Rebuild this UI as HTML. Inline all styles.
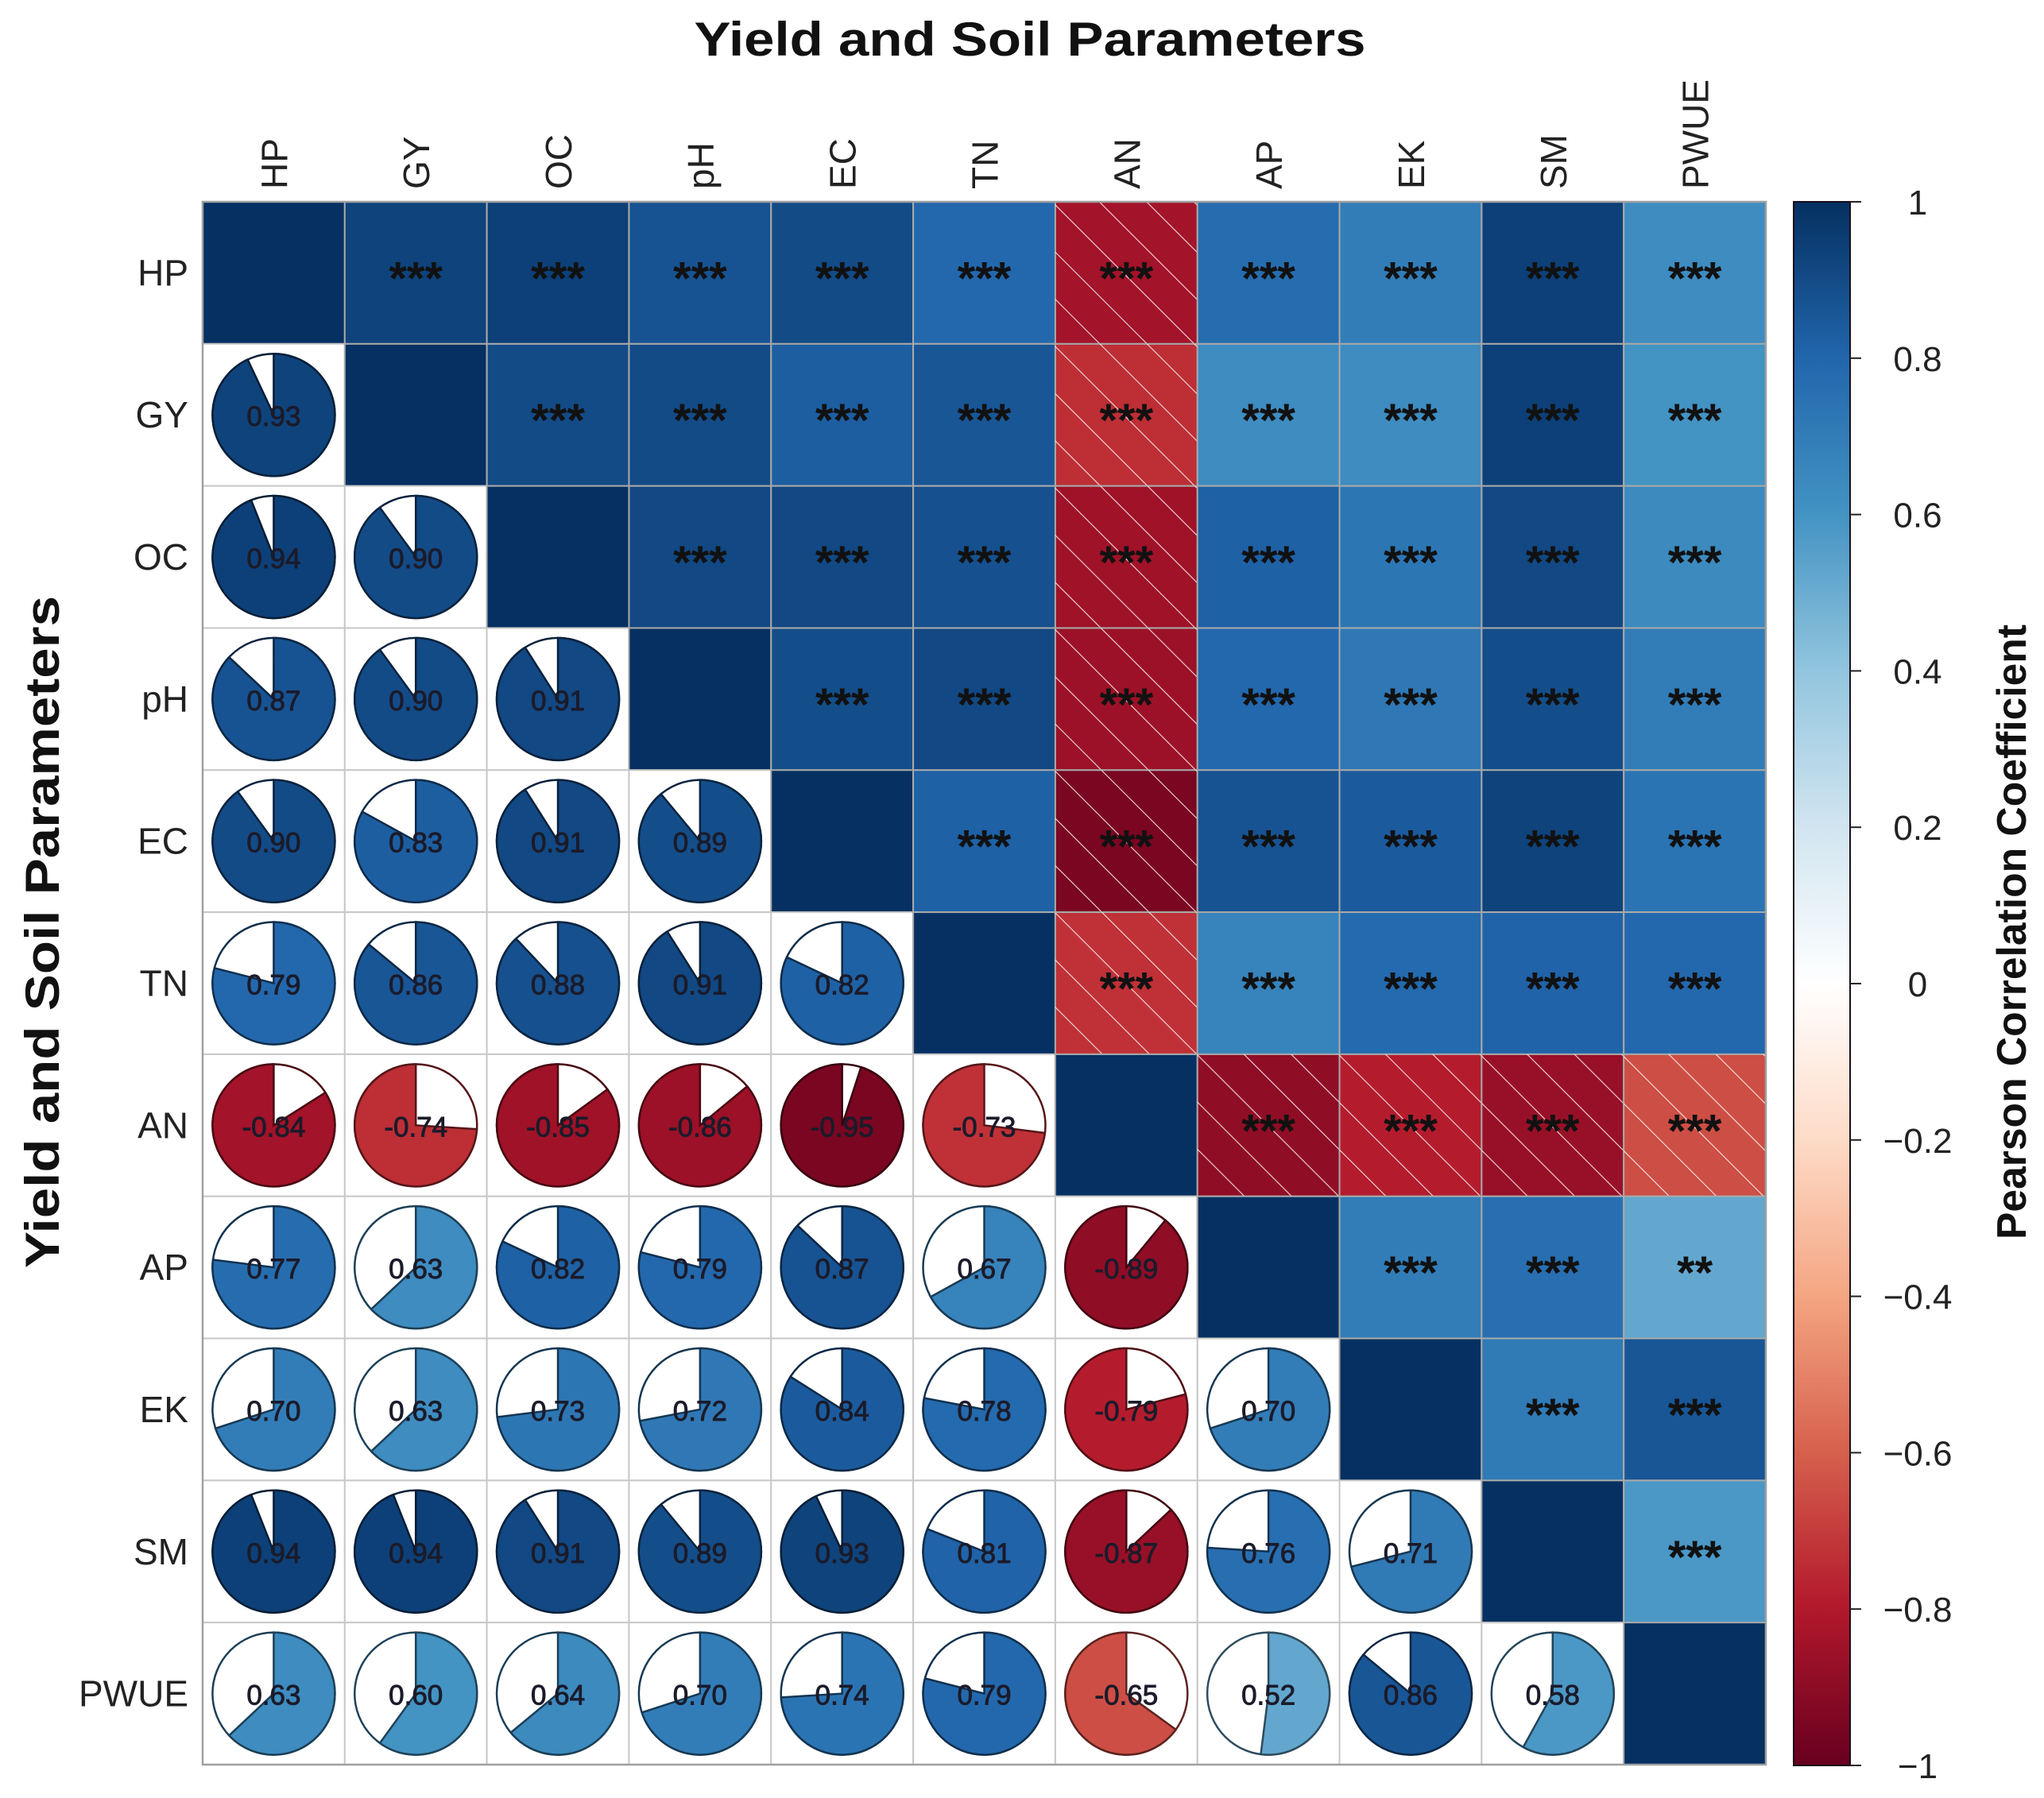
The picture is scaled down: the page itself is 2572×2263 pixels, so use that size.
<!DOCTYPE html>
<html><head><meta charset="utf-8"><style>
html,body{margin:0;padding:0;background:#fff;}
svg{display:block;font-family:"Liberation Sans",Arial,sans-serif;}
</style></head><body>
<svg id="chart" width="2572" height="2263" viewBox="0 0 2572 2263" xmlns="http://www.w3.org/2000/svg">
<defs>
<pattern id="hatch" patternUnits="userSpaceOnUse" width="42" height="42" patternTransform="rotate(-45)">
<line x1="0" y1="-5" x2="0" y2="50" stroke="#ffffff" stroke-width="2.2" opacity="0.85"/>
</pattern>
<linearGradient id="cbgrad" x1="0" y1="1" x2="0" y2="0">
<stop offset="0" stop-color="#67001F"/><stop offset="0.1" stop-color="#B2182B"/><stop offset="0.2" stop-color="#D6604D"/><stop offset="0.3" stop-color="#F4A582"/><stop offset="0.4" stop-color="#FDDBC7"/><stop offset="0.5" stop-color="#FFFFFF"/><stop offset="0.6" stop-color="#D1E5F0"/><stop offset="0.7" stop-color="#92C5DE"/><stop offset="0.8" stop-color="#4393C3"/><stop offset="0.9" stop-color="#2166AC"/><stop offset="1" stop-color="#053061"/>
</linearGradient>
</defs>
<text x="1296" y="70" text-anchor="middle" font-size="60" font-weight="bold" fill="#111" textLength="845" lengthAdjust="spacingAndGlyphs">Yield and Soil Parameters</text>
<text transform="translate(74,1173) rotate(-90)" text-anchor="middle" font-size="60" font-weight="bold" fill="#111" textLength="846" lengthAdjust="spacingAndGlyphs">Yield and Soil Parameters</text>
<text transform="translate(2549,1173) rotate(-90)" text-anchor="middle" font-size="52" font-weight="bold" fill="#111" textLength="774" lengthAdjust="spacingAndGlyphs">Pearson Correlation Coefficient</text>
<g id="cells"></g>
<g id="labels"></g>
<g id="colorbar"></g>
</svg>
<script>
const variables = ["HP","GY","OC","pH","EC","TN","AN","AP","EK","SM","PWUE"];
const lowerValues = [
 [],
 [0.93],
 [0.94,0.90],
 [0.87,0.90,0.91],
 [0.90,0.83,0.91,0.89],
 [0.79,0.86,0.88,0.91,0.82],
 [-0.84,-0.74,-0.85,-0.86,-0.95,-0.73],
 [0.77,0.63,0.82,0.79,0.87,0.67,-0.89],
 [0.70,0.63,0.73,0.72,0.84,0.78,-0.79,0.70],
 [0.94,0.94,0.91,0.89,0.93,0.81,-0.87,0.76,0.71],
 [0.63,0.60,0.64,0.70,0.74,0.79,-0.65,0.52,0.86,0.58]
];
const significance = {"AP-PWUE":"**"};
const colorbarTicks = [1,0.8,0.6,0.4,0.2,0,-0.2,-0.4,-0.6,-0.8,-1];
const paletteColors = ["#67001F","#B2182B","#D6604D","#F4A582","#FDDBC7","#FFFFFF","#D1E5F0","#92C5DE","#4393C3","#2166AC","#053061"];

const NS="http://www.w3.org/2000/svg";
const X0=255, Y0=254, CELL=(2222-255)/11;
function mk(tag,attrs,parent){const e=document.createElementNS(NS,tag);for(const k in attrs)e.setAttribute(k,attrs[k]);parent.appendChild(e);return e;}
function hex(h){return [parseInt(h.slice(1,3),16),parseInt(h.slice(3,5),16),parseInt(h.slice(5,7),16)];}
function color(r){const t=(r+1)/2*10;const i=Math.min(9,Math.floor(t));const f=t-i;const a=hex(paletteColors[i]),b=hex(paletteColors[i+1]);
 return "rgb("+a.map((v,k)=>Math.round(v+(b[k]-v)*f)).join(",")+")";}
function darker(r){const c=color(r).match(/\d+/g).map(Number).map(v=>Math.round(v*0.45));return "rgb("+c.join(",")+")";}
function val(i,j){if(i===j)return 1;return i>j?lowerValues[i][j]:lowerValues[j][i];}
const xs=j=>X0+j*CELL, ys=i=>Y0+i*CELL;
const cells=document.getElementById('cells'), labels=document.getElementById('labels'), cb=document.getElementById('colorbar');
const n=variables.length;
for(let i=0;i<n;i++){for(let j=0;j<n;j++){
 const r=val(i,j), x=xs(j), y=ys(i), cx=x+CELL/2, cy=y+CELL/2;
 const g=mk('g',{},cells);
 
 
 if(j>=i){
  mk('rect',{x:x,y:y,width:CELL,height:CELL,fill:color(r),stroke:"#a9a9a9","stroke-width":2},g);
  if(r<0) mk('rect',{x:x,y:y,width:CELL,height:CELL,fill:"url(#hatch)"},g);
  if(j>i){
   const key=variables[i]+'-'+variables[j];
   const t=mk('text',{x:cx,y:cy+27,"text-anchor":"middle","font-size":58,"font-weight":"bold",fill:"#111"},g);
   t.textContent=significance[key]||"***";
   
   
  }
 } else {
  mk('rect',{x:x,y:y,width:CELL,height:CELL,fill:"#fff",stroke:"#c8c8c8","stroke-width":2},g);
  const R=77, a=Math.abs(r);
  mk('circle',{cx:cx,cy:cy,r:R,fill:"#fff",stroke:darker(r),"stroke-width":2.5},g);
  const ang=a*2*Math.PI*(r>=0?1:-1);
  const ex=cx+R*Math.sin(ang), ey=cy-R*Math.cos(ang);
  const large=a>0.5?1:0, sweep=r>=0?1:0;
  const p=mk('path',{d:`M${cx},${cy} L${cx},${cy-R} A${R},${R} 0 ${large} ${sweep} ${ex},${ey} Z`,fill:color(r),stroke:darker(r),"stroke-width":2.5},g);
  
  
  const t=mk('text',{x:cx,y:cy+14,"text-anchor":"middle","font-size":35,fill:"#1b1b2a",stroke:"#1b1b2a","stroke-width":0.9},g);
  t.textContent=(r<0?"-":"")+a.toFixed(2);
  
  
 }
}}
mk('rect',{x:X0,y:Y0,width:CELL*n,height:CELL*n,fill:"none",stroke:"#a0a0a0","stroke-width":2.5},cells);
for(let k=0;k<n;k++){
 const t=mk('text',{x:237,y:ys(k)+CELL/2+16,"text-anchor":"end","font-size":46,fill:"#222"},labels);
 t.textContent=variables[k];
 
 
 const cx=xs(k)+CELL/2+17;
 const c=mk('text',{transform:`translate(${cx},238) rotate(-90)`,"text-anchor":"start","font-size":46,fill:"#222"},labels);
 c.textContent=variables[k];
 
 
}
const CBX=2257, CBW=71, CBT=254, CBB=2222;
const bar=mk('rect',{x:CBX,y:CBT,width:CBW,height:CBB-CBT,fill:"url(#cbgrad)",stroke:"#1a0f1a","stroke-width":2},cb);


colorbarTicks.forEach(v=>{
 const y=CBB-(v+1)/2*(CBB-CBT);
 mk('line',{x1:CBX+CBW,x2:2342,y1:y,y2:y,stroke:"#222","stroke-width":2},cb);
 const t=mk('text',{x:2413,y:y+16,"text-anchor":"middle","font-size":44,fill:"#222"},cb);
 t.textContent=(v<0?"\u2212":"")+String(Math.abs(v));
 
 
});
</script>
</body></html>
